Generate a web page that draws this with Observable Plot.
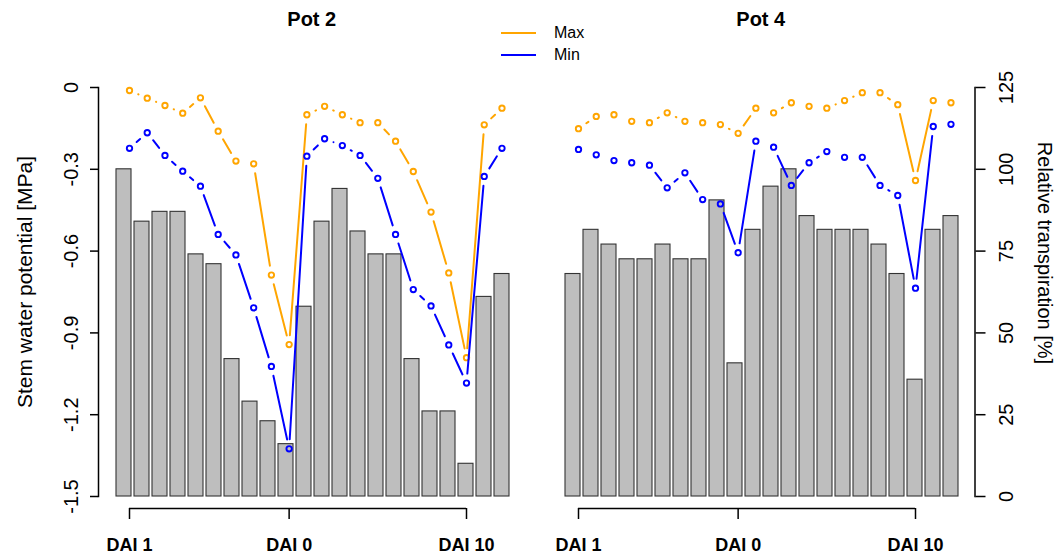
<!DOCTYPE html>
<html>
<head>
<meta charset="utf-8">
<script src="https://cdn.jsdelivr.net/npm/d3@7"></script>
<script src="https://cdn.jsdelivr.net/npm/@observablehq/plot@0.6"></script>
<style>
  html, body { margin: 0; padding: 0; background: #fff; }
  body { font-family: "Liberation Sans", Arial, Helvetica, sans-serif; }
  #chart { position: relative; width: 1061px; height: 558px; overflow: hidden; }
  #chart svg { position: absolute; left: 0; top: 0; }
  .t { position: absolute; white-space: nowrap; line-height: 1; color: #000; }
  .c { transform: translate(-50%, -50%); }
  .leg { position: absolute; height: 2px; }
</style>
</head>
<body>
<div id="chart"></div>
<script>
// ---- data ----
const days = d3.range(1, 23);                       // 22 measurement days per pot
const dayTicks = [1, 10, 20];
const dayTickLabels = ["DAI 1", "DAI 0", "DAI 10"];
const swpTicks = [0, -0.3, -0.6, -0.9, -1.2, -1.5];
const transpTicks = [0, 25, 50, 75, 100, 125];
const panelTitles = ["Pot 2", "Pot 4"];
const seriesNames = ["Max", "Min"];
const seriesColors = ["#FFA500", "#0000FF"];

const pot2Transp = [100, 84, 87, 87, 74, 71, 42, 29, 23, 16, 58, 84, 94, 81, 74, 74, 42, 26, 26, 10, 61, 68];
const pot2Max = [-0.011, -0.039, -0.066, -0.094, -0.038, -0.160, -0.270, -0.280, -0.688, -0.943,
                 -0.100, -0.069, -0.100, -0.129, -0.129, -0.197, -0.308, -0.457, -0.680, -0.991, -0.137, -0.076];
const pot2Min = [-0.223, -0.166, -0.249, -0.307, -0.362, -0.539, -0.614, -0.808, -1.023, -1.325,
                 -0.252, -0.188, -0.213, -0.249, -0.333, -0.539, -0.741, -0.801, -0.944, -1.084, -0.326, -0.223];

const pot4Transp = [68, 81.5, 77, 72.5, 72.5, 77, 72.5, 72.5, 90.5, 40.7, 81.5, 94.7, 100, 85.7, 81.5, 81.5, 81.5, 77, 68, 35.7, 81.5, 85.7];
const pot4Max = [-0.151, -0.106, -0.100, -0.124, -0.129, -0.093, -0.124, -0.129, -0.136, -0.168,
                 -0.076, -0.093, -0.056, -0.069, -0.076, -0.048, -0.019, -0.019, -0.063, -0.341, -0.048, -0.056];
const pot4Min = [-0.227, -0.247, -0.268, -0.276, -0.285, -0.368, -0.313, -0.411, -0.427, -0.606,
                 -0.197, -0.219, -0.359, -0.276, -0.235, -0.256, -0.256, -0.359, -0.396, -0.736, -0.143, -0.135];

// ---- layout ----
const W = 1061, H = 558;
const FONT = "'Liberation Sans', Arial, Helvetica, sans-serif";
const shift = 449;   // horizontal offset of the second panel

function table(transp, mx, mn) {
  return days.map((d, i) => ({day: d, transp: transp[i], max: mx[i], min: mn[i]}));
}
function segments(tbl, key) {
  return d3.pairs(tbl).map(([a, b]) => ({x1: a.day, y1: a[key], x2: b.day, y2: b[key]}));
}

const baseStyle = {fontFamily: FONT, fontSize: "20px", background: "transparent", color: "#000", overflow: "visible"};

function barsLayer(tbl, s, withAxis) {
  return Plot.plot({
    width: W, height: H,
    marginTop: 87, marginBottom: 62, marginLeft: 98 + s, marginRight: W - (525.5 + s),
    style: baseStyle,
    x: {type: "band", domain: days, range: [112.4 + s, 513 + s], padding: 0.17, axis: null},
    y: withAxis ? {domain: [0, 125]} : {domain: [0, 125], axis: null},
    marks: [
      Plot.barY(tbl, {x: "day", y: "transp", fill: "#bebebe", stroke: "#333", strokeWidth: 1.1}),
      withAxis ? [
        Plot.frame({anchor: "right", stroke: "#000", strokeWidth: 1.5}),
        Plot.axisY(transpTicks, {anchor: "right", tickSize: 10, tickRotate: -90, lineAnchor: "top",
          tickPadding: 14, fontSize: 20, strokeWidth: 1.5, tickFormat: d => String(d), label: null})
      ] : null
    ]
  });
}

function pointsLayer(tbl, s, withAxis) {
  const marks = [];
  if (withAxis) {
    marks.push(Plot.frame({anchor: "left", stroke: "#000", strokeWidth: 1.5}));
    marks.push(Plot.axisY(swpTicks, {anchor: "left", tickSize: 8, tickRotate: -90, tickPadding: 13,
      fontSize: 20, strokeWidth: 1.5, tickFormat: d => String(d), label: null}));
  }
  marks.push(Plot.ruleY([-1.5], {x1: dayTicks[0], x2: dayTicks[dayTicks.length - 1], dy: 12, strokeWidth: 1.5}));
  marks.push(Plot.axisX(dayTicks, {anchor: "bottom", tickSize: 11, dy: 12, tickPadding: 19,
    fontSize: 18, fontWeight: "bold", strokeWidth: 1.5, label: null,
    tickFormat: d => dayTickLabels[dayTicks.indexOf(d)]}));
  ["max", "min"].forEach((key, k) => {
    marks.push(Plot.arrow(segments(tbl, key), {x1: "x1", y1: "y1", x2: "x2", y2: "y2",
      stroke: seriesColors[k], strokeWidth: 2, insetStart: 9.5, insetEnd: 9.5, headLength: 0}));
    marks.push(Plot.dot(tbl, {x: "day", y: key, r: 2.7, stroke: seriesColors[k], strokeWidth: 1.9, fill: "none"}));
  });
  return Plot.plot({
    width: W, height: H,
    marginTop: 87, marginBottom: 62, marginLeft: 98 + s, marginRight: W - (525.5 + s),
    style: baseStyle,
    x: {domain: [1, 20], range: [129 + s, 466 + s]},
    y: withAxis ? {domain: [-1.5, 0]} : {domain: [-1.5, 0], axis: null},
    marks
  });
}

const chart = document.getElementById("chart");
const pot2 = table(pot2Transp, pot2Max, pot2Min);
const pot4 = table(pot4Transp, pot4Max, pot4Min);
chart.append(barsLayer(pot2, 0, false));
chart.append(pointsLayer(pot2, 0, true));
chart.append(barsLayer(pot4, shift, true));
chart.append(pointsLayer(pot4, shift, false));

// ---- text: panel titles, axis titles, legend ----
function addText(txt, x, y, css) {
  const d = document.createElement("div");
  d.className = "t";
  d.textContent = txt;
  d.style.left = x + "px";
  d.style.top = y + "px";
  Object.assign(d.style, css || {});
  chart.append(d);
  return d;
}
addText(panelTitles[0], 311.75, 18.5, {fontWeight: "bold", fontSize: "20px", transform: "translate(-50%,-50%)"});
addText(panelTitles[1], 311.75 + shift, 18.5, {fontWeight: "bold", fontSize: "20px", transform: "translate(-50%,-50%)"});
addText("Stem water potential [MPa]", 24, 282, {fontSize: "21px", transform: "translate(-50%,-50%) rotate(-90deg)"});
addText("Relative transpiration [%]", 1045, 253, {fontSize: "20px", transform: "translate(-50%,-50%) rotate(90deg)"});

seriesNames.forEach((name, k) => {
  const y = 33 + k * 21.6;
  const l = document.createElement("div");
  l.className = "leg";
  l.style.left = "500.5px";
  l.style.top = (y - 1) + "px";
  l.style.width = "35.5px";
  l.style.background = seriesColors[k];
  chart.append(l);
  addText(name, 554, y, {fontSize: "16px", transform: "translateY(-50%)"});
});
</script>
</body>
</html>
